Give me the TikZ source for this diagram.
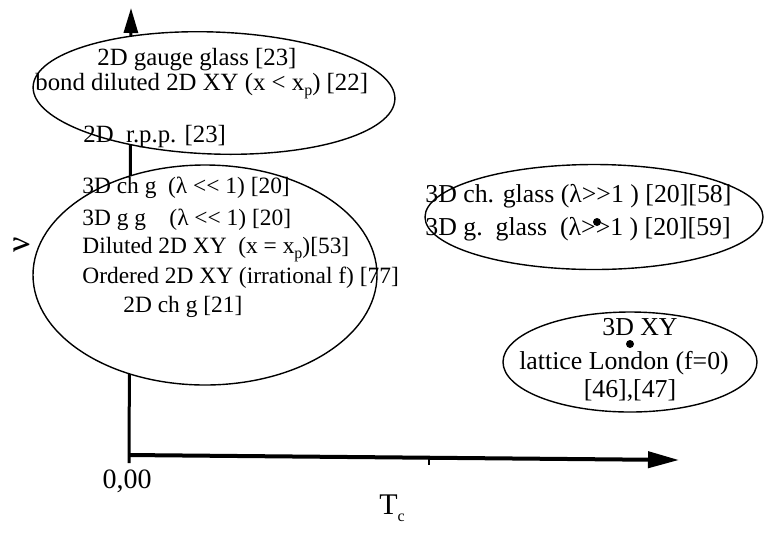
\documentclass[tikz,border=0pt]{standalone}
\usepackage{fontspec}
\setmainfont{Liberation Serif}
\usetikzlibrary{shapes.geometric, arrows.meta}
\newcommand{\lowidx}[1]{\raisebox{-0.5ex}{\footnotesize #1}}

\begin{document}
\begin{tikzpicture}[x=0.5pt, y=-0.5pt, font=\fontsize{11}{13}\selectfont,
    oval/.style={draw, ellipse, fill=white, line width=0.7pt, inner sep=0pt},
    txt/.style={anchor=base west, inner sep=0pt},
    ctxt/.style={anchor=base, inner sep=0pt},
    topfont/.style={font=\fontsize{12.4}{14}\selectfont},
    midfont/.style={font=\fontsize{11.7}{14}\selectfont},
    rightfont/.style={font=\fontsize{12.9}{15}\selectfont}]
  \useasboundingbox (0,0) rectangle (765,532);
  \coordinate (ybot) at (129,463);
  \coordinate (ytip) at (131,8);
  \coordinate (origin) at (129,455);
  \coordinate (xtip) at (679,460);
  \draw[line width=1.5pt, -{Triangle[length=12.5pt, width=7pt]}] (ybot) -- (ytip);
  \draw[line width=2pt, -{Triangle[length=15.5pt, width=8pt]}] (origin) -- (xtip);
  \draw[line width=0.6pt] (429,458) -- (429,465);

  \node[oval, minimum width=181pt, minimum height=61pt, rotate=-2] (gaugeoval) at (214,93) {};
  \node[oval, minimum width=172pt, minimum height=110pt] (chgoval) at (205,275) {};
  \node[oval, minimum width=169pt, minimum height=52.5pt] (glassoval) at (594,217) {};
  \node[oval, minimum width=127pt, minimum height=50pt] (xyoval) at (630,362) {};

  \node[txt, topfont] (gauge) at (97,65) {2D gauge glass [23]};
  \node[txt, topfont] (bond) at (35,90) {bond diluted 2D XY (x < x\lowidx{p}) [22]};
  \node[txt, topfont] (rpp) at (83,142) {2D\ \ r.p.p. [23]};

  \node[txt, midfont] (chgA) at (82,193) {3D ch g\ \ (λ <{}< 1) [20]};
  \node[txt, midfont] (ggA) at (82,225) {3D g g\ \ \ \ (λ <{}< 1) [20]};
  \node[txt, midfont] (dil) at (82,253) {Diluted 2D XY\ \ (x = x\lowidx{p})[53]};
  \node[txt, midfont] (ord) at (82,283) {Ordered 2D XY (irrational f) [77]};
  \node[txt, midfont] (chgB) at (123,312) {2D ch g [21]};

  \node[txt, rightfont] (chglass) at (425,202) {3D ch. glass (λ>{}>1 ) [20][58]};
  \node[txt, rightfont] (gglass) at (425,235) {3D g.\ \ glass\ \ (λ>{}>1 ) [20][59]};
  \fill (597,222) circle (4);

  \node[ctxt, rightfont] (xy) at (640,335) {3D XY};
  \node[ctxt, rightfont] (london) at (624,369) {lattice London (f=0)};
  \node[ctxt, rightfont] (refs) at (630,397) {[46],[47]};
  \fill (630,344) circle (4);

  \node[font=\fontsize{14}{16}\selectfont] (zero) at (127,481) {0,00};
  \node[font=\fontsize{15}{17}\selectfont] (tclabel) at (392,508) {T\lowidx{c}};
  \node[font=\fontsize{17}{19}\selectfont, rotate=90] (nulabel) at (22,245) {ν};
\end{tikzpicture}
\end{document}
